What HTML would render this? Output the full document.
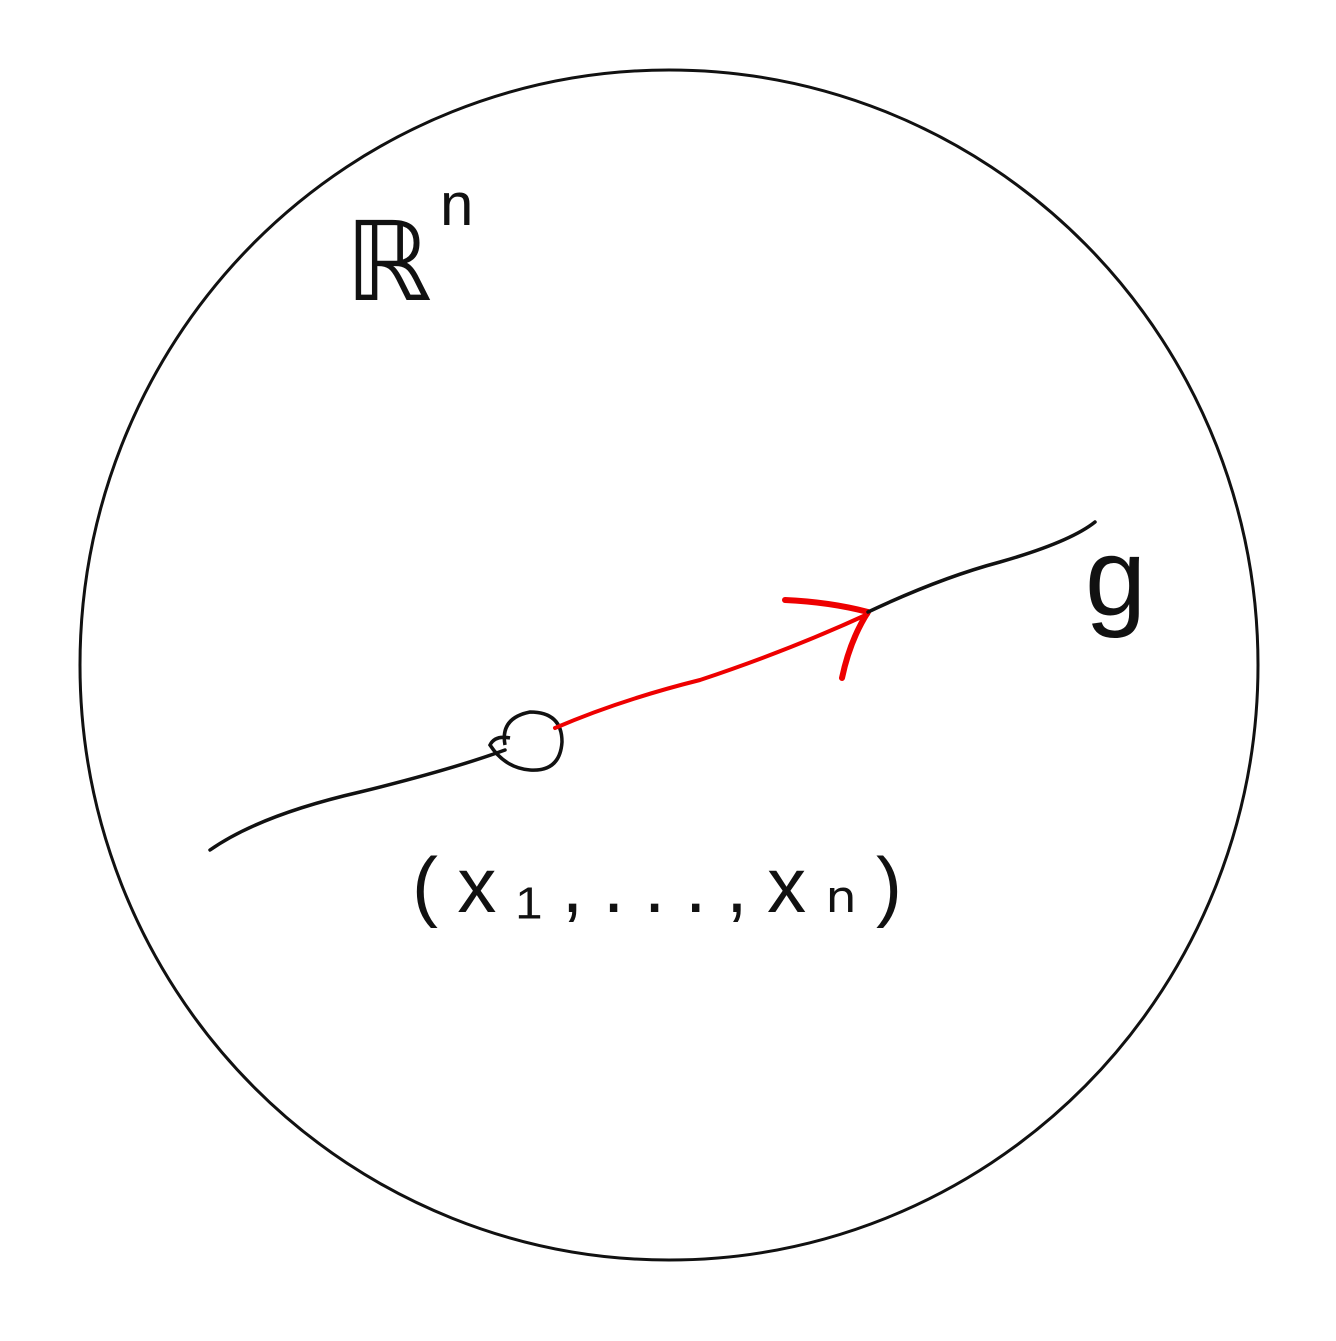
<!DOCTYPE html>
<html><head><meta charset="utf-8"><style>html,body{margin:0;padding:0;background:#fff}</style></head>
<body>
<svg width="1336" height="1336" viewBox="0 0 1336 1336">
<ellipse cx="669" cy="665" rx="589" ry="595" fill="none" stroke="#111" stroke-width="3"/>
<path d="M210 850 Q260 815 360 792 Q450 770 505 750" fill="none" stroke="#111" stroke-width="3.5" stroke-linecap="round"/>
<path d="M505 745 Q500 718 530 712 Q562 712 562 742 Q560 772 530 770 Q505 768 490 745 Q495 735 510 738" fill="none" stroke="#111" stroke-width="3.5"/>
<path d="M555 728 Q620 700 700 680 Q790 650 868 614" fill="none" stroke="#e00" stroke-width="4" stroke-linecap="round"/>
<path d="M785 600 Q830 602 868 612 M868 612 Q850 640 842 678" fill="none" stroke="#e00" stroke-width="6" stroke-linecap="round"/>
<path d="M868 612 Q940 578 1000 562 Q1070 542 1095 522" fill="none" stroke="#111" stroke-width="3.5" stroke-linecap="round"/>
<text x="345" y="300" font-family="Liberation Sans, sans-serif" font-size="110" fill="#111">ℝ</text>
<text x="440" y="225" font-family="Liberation Sans, sans-serif" font-size="60" fill="#111">n</text>
<text x="1085" y="615" font-family="Liberation Sans, sans-serif" font-size="110" fill="#111">g</text>
<text x="412" y="912" font-family="Liberation Sans, sans-serif" font-size="78" fill="#111" textLength="490">(x₁,...,xₙ)</text>
</svg>
</body></html>
